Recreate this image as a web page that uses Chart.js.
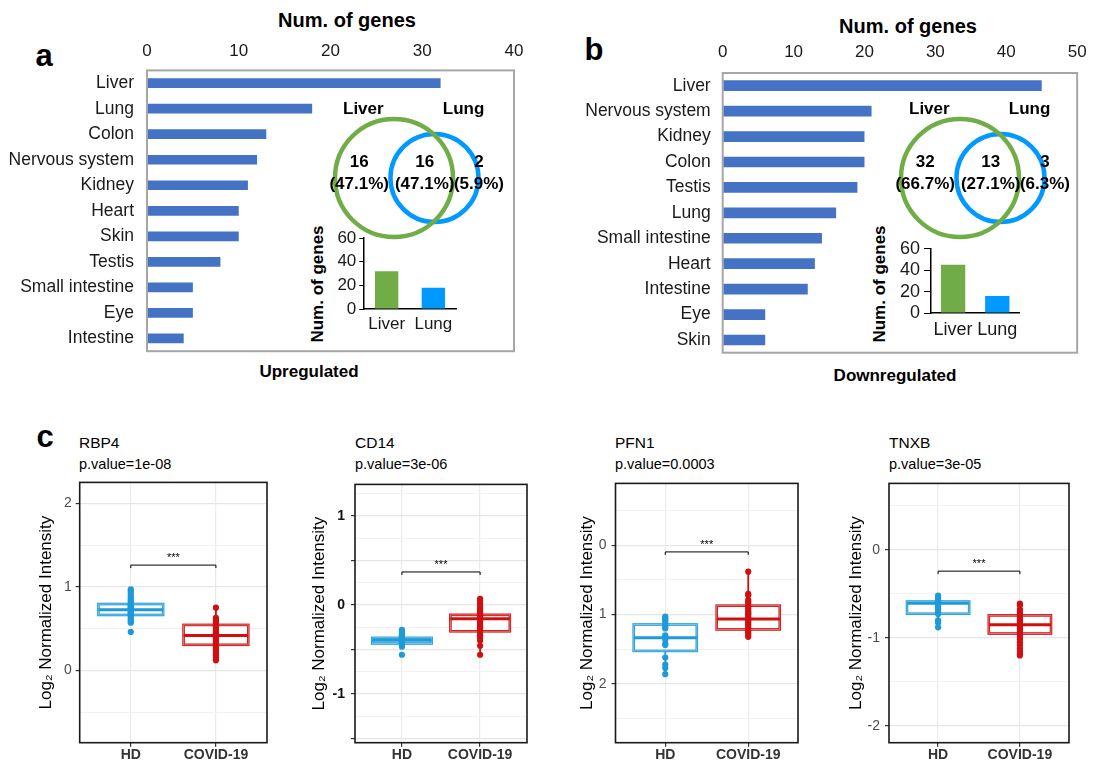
<!DOCTYPE html>
<html>
<head>
<meta charset="utf-8">
<title>Tissue distribution and serum levels</title>
<script src="https://cdn.jsdelivr.net/npm/chart.js@4.4.1/dist/chart.umd.min.js"></script>
<style>
  body { margin: 0; width: 1097px; height: 765px; position: relative; overflow: hidden; background: #fff;
         font-family: "Liberation Sans", Arial, sans-serif; color: #000; }
  canvas, .txt { position: absolute; }
  .txt { white-space: nowrap; line-height: 1; transform: translate(-50%, -50%); }
  .b { font-weight: bold; }
  .start { transform: translate(0, -50%); }
  .rot { transform: translate(-50%, -50%) rotate(-90deg); }
</style>
</head>
<body>
<div class="txt b" style="left:44px;top:55px;font-size:31px">a</div>
<div class="txt b" style="left:594px;top:49px;font-size:31px">b</div>
<div class="txt b" style="left:45px;top:436px;font-size:31px">c</div>

<div class="txt b" style="left:347px;top:20px;font-size:20px">Num. of genes</div>
<div class="txt b" style="left:908px;top:26px;font-size:20px">Num. of genes</div>
<div class="txt b" style="left:309px;top:371px;font-size:17px">Upregulated</div>
<div class="txt b" style="left:895px;top:375px;font-size:17px">Downregulated</div>
<div class="txt b rot" style="left:317px;top:284px;font-size:17px">Num. of genes</div>
<div class="txt b rot" style="left:879px;top:284px;font-size:17px">Num. of genes</div>

<div class="txt start" style="left:79px;top:443px;font-size:15.5px">RBP4</div>
<div class="txt start" style="left:79px;top:464px;font-size:14.5px">p.value=1e-08</div>
<div class="txt start" style="left:355px;top:443px;font-size:15.5px">CD14</div>
<div class="txt start" style="left:355px;top:464px;font-size:14.5px">p.value=3e-06</div>
<div class="txt start" style="left:615px;top:443px;font-size:15.5px">PFN1</div>
<div class="txt start" style="left:615px;top:464px;font-size:14.5px">p.value=0.0003</div>
<div class="txt start" style="left:889px;top:443px;font-size:15.5px">TNXB</div>
<div class="txt start" style="left:889px;top:464px;font-size:14.5px">p.value=3e-05</div>

<script>
Chart.defaults.font.family = '"Liberation Sans", Arial, sans-serif';
Chart.defaults.color = '#1a1a1a';
Chart.defaults.animation = false;
Chart.defaults.plugins.legend.display = false;
Chart.defaults.plugins.tooltip.enabled = false;

// panel a / b : tissues
var upTissues = ['Liver', 'Lung', 'Colon', 'Nervous system', 'Kidney', 'Heart', 'Skin', 'Testis', 'Small intestine', 'Eye', 'Intestine'];
var upGenes = [32, 18, 13, 12, 11, 10, 10, 8, 5, 5, 4];
var downTissues = ['Liver', 'Nervous system', 'Kidney', 'Colon', 'Testis', 'Lung', 'Small intestine', 'Heart', 'Intestine', 'Eye', 'Skin'];
var downGenes = [45, 21, 20, 20, 19, 16, 14, 13, 12, 6, 6];

// venn : liver only, both, lung only
var vennSets = ['Liver', 'Lung'];
var upVennCounts = [16, 16, 2];
var upVennPct = ['47.1%', '47.1%', '5.9%'];
var downVennCounts = [32, 13, 3];
var downVennPct = ['66.7%', '27.1%', '6.3%'];

// inset bars
var organs = ['Liver', 'Lung'];
var upOrganGenes = [32, 18];
var downOrganGenes = [45, 16];
var organColors = ['#70AD47', '#0099FF'];

// panel c
var groups = ['HD', 'COVID-19'];
var groupColors = ['#1E9AD9', '#D10F10'];

var rbp4HD = [0.97, 0.95, 0.93, 0.9, 0.88, 0.86, 0.84, 0.82, 0.8, 0.79, 0.78, 0.77, 0.76, 0.75, 0.74, 0.73, 0.72, 0.71, 0.7, 0.69, 0.68, 0.67, 0.66, 0.64, 0.62, 0.6, 0.58, 0.57, 0.46];
var rbp4Covid = [0.75, 0.63, 0.61, 0.59, 0.57, 0.55, 0.53, 0.5, 0.48, 0.46, 0.44, 0.43, 0.42, 0.41, 0.4, 0.39, 0.37, 0.35, 0.33, 0.31, 0.29, 0.27, 0.25, 0.23, 0.2, 0.18, 0.16, 0.14, 0.12];
var cd14HD = [-0.28, -0.3, -0.32, -0.34, -0.35, -0.36, -0.37, -0.38, -0.39, -0.4, -0.41, -0.42, -0.43, -0.44, -0.45, -0.47, -0.56];
var cd14Covid = [0.07, 0.05, 0.02, -0.01, -0.04, -0.06, -0.08, -0.1, -0.12, -0.13, -0.15, -0.16, -0.17, -0.19, -0.21, -0.23, -0.25, -0.27, -0.29, -0.31, -0.34, -0.37, -0.4, -0.46, -0.56];
var pfn1HD = [1.03, 1.05, 1.07, 1.09, 1.12, 1.15, 1.18, 1.2, 1.3, 1.33, 1.36, 1.42, 1.44, 1.62, 1.72, 1.77, 1.86];
var pfn1Covid = [0.38, 0.7, 0.72, 0.79, 0.82, 0.86, 0.89, 0.92, 0.95, 0.98, 1.0, 1.03, 1.06, 1.08, 1.11, 1.14, 1.17, 1.2, 1.23, 1.26, 1.29, 1.32];
var tnxbHD = [-0.52, -0.54, -0.56, -0.58, -0.59, -0.6, -0.61, -0.62, -0.63, -0.65, -0.67, -0.69, -0.71, -0.73, -0.8, -0.83, -0.88];
var tnxbCovid = [-0.61, -0.63, -0.68, -0.71, -0.74, -0.76, -0.78, -0.8, -0.82, -0.84, -0.85, -0.86, -0.88, -0.9, -0.92, -0.94, -0.96, -0.99, -1.02, -1.05, -1.08, -1.12, -1.15, -1.18, -1.2];

// box stats: lower whisker, q1, median, q3, upper whisker
var rbp4Box = [[0.57, 0.663, 0.726, 0.794, 0.97], [0.12, 0.306, 0.417, 0.544, 0.75]];
var cd14Box = [[-0.47, -0.433, -0.396, -0.37, -0.28], [-0.56, -0.296, -0.156, -0.111, 0.07]];
var pfn1Box = [[1.03, 1.143, 1.333, 1.524, 1.86], [0.38, 0.871, 1.062, 1.214, 1.32]];
var tnxbBox = [[-0.88, -0.726, -0.607, -0.588, -0.52], [-1.2, -0.951, -0.85, -0.745, -0.61]];

var yLimits = [[-0.866, 2.25], [-1.549, 1.356], [-0.894, 2.849], [-2.19, 0.753]];
var yLabels = [[0, 1, 2], [-1, 0, 1], [0, 1, 2], [-2, -1, 0]];
var yMajor = [[0, 1, 2], [-1.5, -1, -0.5, 0, 0.5, 1], [0, 1, 2], [-2, -1, 0]];
var sigLevels = [1.26, 0.371, 0.095, -0.243];

function place(left, top, w, h) {
    var c = document.createElement('canvas');
    c.width = w;
    c.height = h;
    c.style.left = left + 'px';
    c.style.top = top + 'px';
    c.style.width = w + 'px';
    c.style.height = h + 'px';
    document.body.appendChild(c);
    return c;
}

function frame(color, width) {
    return {
        id: 'frame',
        afterDraw: function(chart) {
            var a = chart.chartArea, ctx = chart.ctx;
            ctx.save();
            ctx.strokeStyle = color;
            ctx.lineWidth = width;
            ctx.strokeRect(a.left, a.top, a.right - a.left, a.bottom - a.top);
            ctx.restore();
        }
    };
}

function tissueChart(g, labels, values, max) {
    var c = place(g.left, 0, g.w, 380);
    return new Chart(c, {
        type: 'bar',
        data: {
            labels: labels,
            datasets: [{ data: values, backgroundColor: '#4472C4', categoryPercentage: 1, barPercentage: g.barPct }]
        },
        options: {
            responsive: false,
            events: [],
            indexAxis: 'y',
            layout: { padding: { top: 0, left: 0, right: g.w - g.yW - g.plotW, bottom: 380 - g.xH - g.plotH } },
            scales: {
                x: {
                    position: 'top', min: 0, max: max,
                    ticks: { stepSize: 10, padding: g.xPad, font: { size: 17 } },
                    grid: { drawOnChartArea: false, drawTicks: false }, border: { display: false },
                    afterFit: function(s) { s.height = g.xH; }
                },
                y: {
                    ticks: { padding: g.yPad, font: { size: 17.5 }, autoSkip: false },
                    grid: { drawOnChartArea: false, drawTicks: false }, border: { display: false },
                    afterFit: function(s) { s.width = g.yW; }
                }
            }
        },
        plugins: [frame('#A6A6A6', 2)]
    });
}

tissueChart({ left: 0, w: 540, yW: 147, plotW: 367, xH: 70.4, plotH: 280.8, xPad: 9.2, yPad: 13, barPct: 0.38 }, upTissues, upGenes, 40);
tissueChart({ left: 560, w: 537, yW: 162.7, plotW: 360, xH: 73, plotH: 279.7, xPad: 10.4, yPad: 12, barPct: 0.42 }, downTissues, downGenes, 50);

// venn circles, in units of the liver circle radius
var vennCircles = [{ x: 0, y: 0, r: 1, color: organColors[0] }, { x: 0.686, y: 0, r: 0.746, color: organColors[1] }];
var vennSetX = [-0.52, 1.18];
var vennRegionX = [-0.59, 0.52, 1.44];

function vennChart(cx, cy, counts, pcts) {
    var U = 59, w = 270, h = 200;
    var c = place(cx - 100, cy - 100, w, h);
    return new Chart(c, {
        type: 'scatter',
        data: {
            datasets: vennCircles.map(function(v) {
                return {
                    data: [{ x: v.x, y: v.y }],
                    backgroundColor: 'rgba(0,0,0,0)',
                    borderColor: v.color,
                    borderWidth: 4.5,
                    pointRadius: function(ctx) {
                        var xs = ctx.chart.scales.x;
                        return v.r * (xs.getPixelForValue(1) - xs.getPixelForValue(0));
                    }
                };
            })
        },
        options: {
            responsive: false,
            events: [],
            layout: { padding: 0 },
            scales: {
                x: { type: 'linear', display: false, min: -100 / U, max: (w - 100) / U },
                y: { type: 'linear', display: false, reverse: true, min: -100 / U, max: 100 / U }
            }
        },
        plugins: [{
            id: 'vennText',
            afterDatasetsDraw: function(chart) {
                var xs = chart.scales.x, ys = chart.scales.y, ctx = chart.ctx;
                ctx.save();
                ctx.fillStyle = '#000';
                ctx.font = 'bold 17px "Liberation Sans", Arial, sans-serif';
                ctx.textAlign = 'center';
                ctx.textBaseline = 'middle';
                vennSets.forEach(function(s, i) {
                    ctx.fillText(s, xs.getPixelForValue(vennSetX[i]), ys.getPixelForValue(-1.17));
                });
                counts.forEach(function(n, i) {
                    var px = xs.getPixelForValue(vennRegionX[i]);
                    ctx.fillText(String(n), px, ys.getPixelForValue(-0.26));
                    ctx.fillText('(' + pcts[i] + ')', px, ys.getPixelForValue(0.1));
                });
                ctx.restore();
            }
        }]
    });
}

vennChart(393.7, 177.5, upVennCounts, upVennPct);
vennChart(959.5, 177.5, downVennCounts, downVennPct);

function insetChart(g, values) {
    var c = place(g.left, g.top, g.w, g.h);
    return new Chart(c, {
        type: 'bar',
        data: {
            labels: organs,
            datasets: [{ data: values, backgroundColor: organColors, categoryPercentage: 1, barPercentage: g.barPct }]
        },
        options: {
            responsive: false,
            events: [],
            layout: { padding: { top: 10, left: 0, right: g.w - g.yW - g.plotW, bottom: 0 } },
            scales: {
                x: {
                    ticks: { padding: g.xPad, font: { size: g.fs }, autoSkip: false, maxRotation: 0 },
                    grid: { drawOnChartArea: false, drawTicks: false },
                    border: { color: '#000', width: 1.5 },
                    afterFit: function(s) { s.height = g.h - 10 - g.plotH; }
                },
                y: {
                    min: 0, max: 60,
                    ticks: { stepSize: 20, padding: g.yPad, font: { size: g.fs }, autoSkip: false },
                    grid: { drawOnChartArea: false, tickLength: g.tl, tickColor: '#000' },
                    border: { color: '#000', width: 1.5 },
                    afterFit: function(s) { s.width = g.yW; }
                }
            }
        }
    });
}

insetChart({ left: 325, top: 225, w: 134, h: 114, yW: 38.3, plotW: 93.4, plotH: 74, barPct: 0.5, fs: 17, tl: 4, yPad: 3, xPad: 5.5 }, upOrganGenes);
insetChart({ left: 880, top: 234.3, w: 144, h: 109, yW: 51, plotW: 92.3, plotH: 69, barPct: 0.55, fs: 18, tl: 7, yPad: 4, xPad: 6.5 }, downOrganGenes);

// panel c boxplots
var boxPanels = [
    { pts: [rbp4HD, rbp4Covid], box: rbp4Box, left: 31.6, yW: 47.7, plotW: 188.4, gridStep: 0.5, yPad: 4, bold: false, reverse: false },
    { pts: [cd14HD, cd14Covid], box: cd14Box, left: 305, yW: 50, plotW: 174, gridStep: 0.25, yPad: 6, bold: true, reverse: false },
    { pts: [pfn1HD, pfn1Covid], box: pfn1Box, left: 572.5, yW: 42.5, plotW: 184.3, gridStep: 0.5, yPad: 5, bold: false, reverse: true },
    { pts: [tnxbHD, tnxbCovid], box: tnxbBox, left: 842, yW: 47, plotW: 182, gridStep: 0.5, yPad: 5, bold: false, reverse: false }
];

function has(list, v) {
    return list.some(function(t) { return Math.abs(t - v) < 1e-6; });
}

function boxChart(p, i) {
    var w = Math.ceil(p.yW + p.plotW + 2);
    var c = place(p.left, 470, w, 295);
    var boxHalf = 0.38;
    return new Chart(c, {
        type: 'scatter',
        data: {
            datasets: groups.map(function(gname, k) {
                return {
                    data: p.pts[k].map(function(v) { return { x: k + 1, y: v }; }),
                    backgroundColor: groupColors[k],
                    borderWidth: 0,
                    pointRadius: 3.1
                };
            })
        },
        options: {
            responsive: false,
            events: [],
            layout: { padding: { top: 10.7, left: 0, right: w - p.yW - p.plotW, bottom: 0 } },
            scales: {
                x: {
                    type: 'linear', min: 0.4, max: 2.6,
                    afterBuildTicks: function(s) { s.ticks = groups.map(function(g, k) { return { value: k + 1 }; }); },
                    ticks: { callback: function(v) { return groups[v - 1]; }, font: { size: 14, weight: 'bold' }, color: '#333', padding: 0 },
                    grid: { color: '#EBEBEB', lineWidth: 1.2, tickLength: 4, tickColor: '#333' },
                    border: { display: false },
                    afterFit: function(s) { s.height = 22.3; }
                },
                y: {
                    type: 'linear', min: yLimits[i][0], max: yLimits[i][1], reverse: p.reverse,
                    ticks: {
                        stepSize: p.gridStep, includeBounds: false, padding: p.yPad, autoSkip: false,
                        font: { size: 14, weight: p.bold ? 'bold' : 'normal' },
                        color: p.bold ? '#111' : '#4D4D4D',
                        callback: function(v) { return has(yLabels[i], v) ? String(v) : ''; }
                    },
                    grid: {
                        color: function(ctx) { return has(yMajor[i], ctx.tick.value) ? '#E6E6E6' : '#F0F0F0'; },
                        lineWidth: function(ctx) { return has(yMajor[i], ctx.tick.value) ? 1.2 : 0.9; },
                        tickLength: 4,
                        tickColor: function(ctx) { return has(yMajor[i], ctx.tick.value) ? '#333' : 'rgba(0,0,0,0)'; }
                    },
                    border: { display: false },
                    title: { display: true, text: 'Log\u2082 Normalized Intensity', color: '#000', font: { size: 17 }, padding: { top: 4, bottom: 0 } },
                    afterFit: function(s) { s.width = p.yW; }
                }
            }
        },
        plugins: [{
            id: 'boxes',
            beforeDatasetsDraw: function(chart) {
                var xs = chart.scales.x, ys = chart.scales.y, ctx = chart.ctx;
                p.box.forEach(function(b, k) {
                    var cx = xs.getPixelForValue(k + 1);
                    var hw = xs.getPixelForValue(k + 1 + boxHalf) - cx;
                    var py = b.map(function(v) { return ys.getPixelForValue(v); });
                    var top = Math.min(py[1], py[3]), hgt = Math.abs(py[3] - py[1]);
                    ctx.save();
                    ctx.strokeStyle = groupColors[k];
                    ctx.lineWidth = 1.8;
                    ctx.beginPath();
                    ctx.moveTo(cx, py[0]); ctx.lineTo(cx, py[1]);
                    ctx.moveTo(cx, py[3]); ctx.lineTo(cx, py[4]);
                    ctx.stroke();
                    ctx.fillStyle = '#fff';
                    ctx.fillRect(cx - hw, top, 2 * hw, hgt);
                    ctx.lineWidth = 2.6;
                    ctx.strokeRect(cx - hw, top, 2 * hw, hgt);
                    ctx.strokeStyle = 'rgba(255,255,255,0.45)';
                    ctx.lineWidth = 0.9;
                    ctx.strokeRect(cx - hw, top, 2 * hw, hgt);
                    ctx.strokeStyle = groupColors[k];
                    ctx.lineWidth = 3;
                    ctx.beginPath();
                    ctx.moveTo(cx - hw, py[2]); ctx.lineTo(cx + hw, py[2]);
                    ctx.stroke();
                    ctx.restore();
                });
            },
            afterDatasetsDraw: function(chart) {
                var xs = chart.scales.x, ys = chart.scales.y, ctx = chart.ctx;
                var x1 = xs.getPixelForValue(1), x2 = xs.getPixelForValue(2);
                var y = ys.getPixelForValue(sigLevels[i]);
                ctx.save();
                ctx.strokeStyle = '#000';
                ctx.lineWidth = 1;
                ctx.beginPath();
                ctx.moveTo(x1, y + 3); ctx.lineTo(x1, y); ctx.lineTo(x2, y); ctx.lineTo(x2, y + 3);
                ctx.stroke();
                ctx.fillStyle = '#000';
                ctx.font = '11px "Liberation Sans", Arial, sans-serif';
                ctx.textAlign = 'center';
                ctx.textBaseline = 'middle';
                ctx.fillText('***', (x1 + x2) / 2, y - 7);
                ctx.restore();
            }
        }, frame('#1a1a1a', 1.6)]
    });
}

boxPanels.forEach(boxChart);
</script>
</body>
</html>
